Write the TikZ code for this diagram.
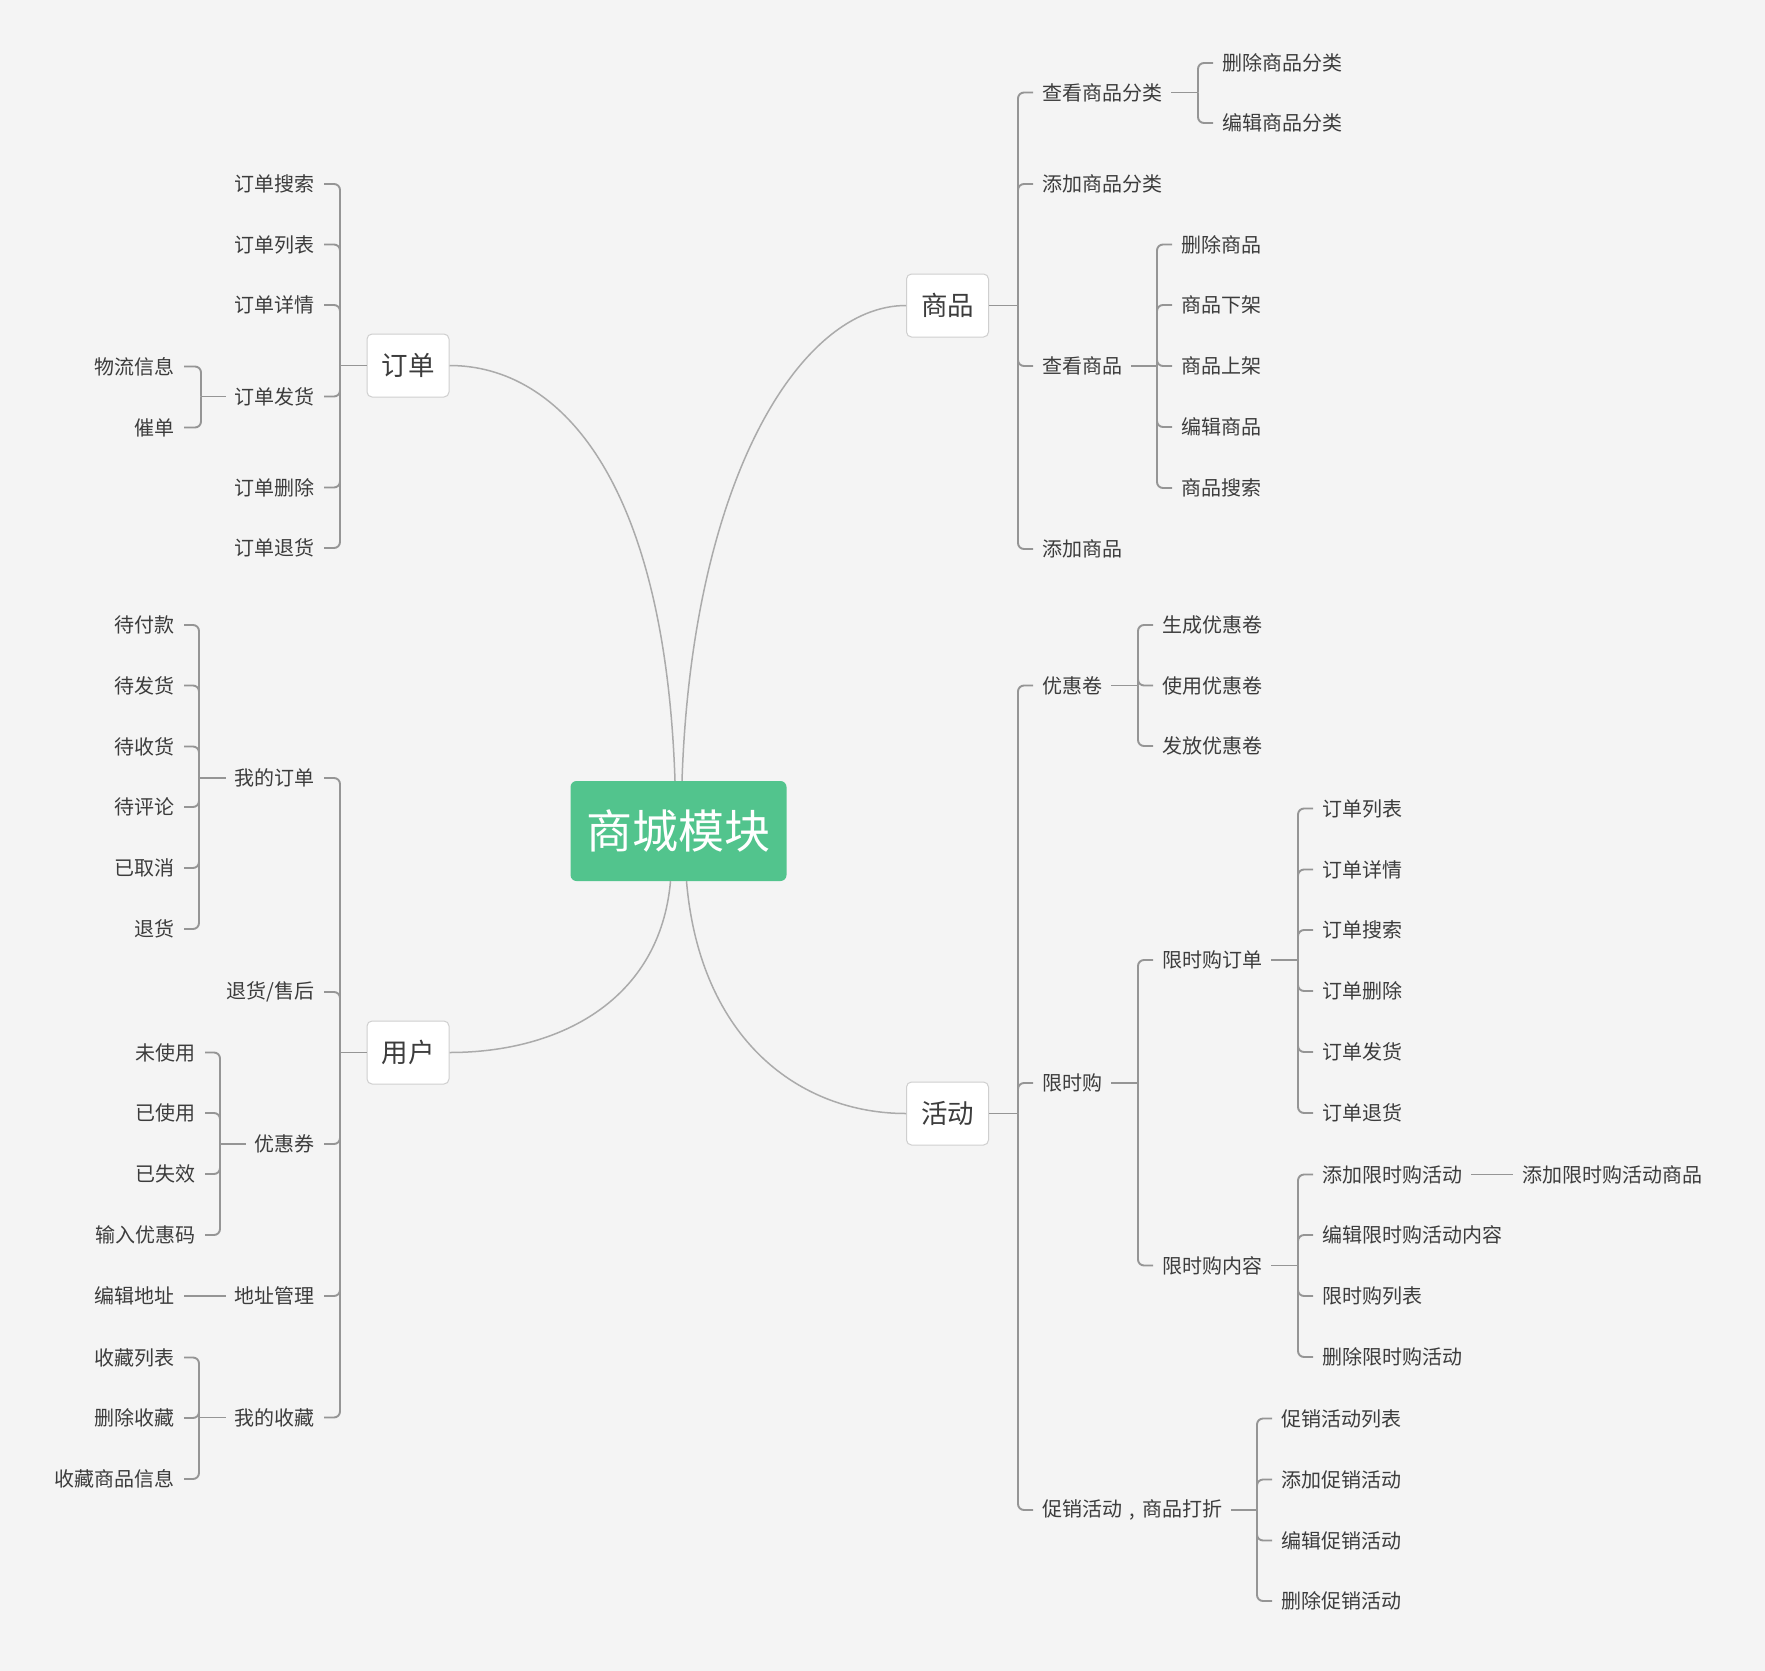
\documentclass[tikz,border=0pt]{standalone}
\usepackage{fontspec}
\setmainfont{Noto Sans CJK SC}
\definecolor{bgc}{HTML}{F4F4F4}
\definecolor{hubc}{HTML}{52C48D}
\definecolor{txt}{HTML}{3C3C3C}
\definecolor{brc}{HTML}{959595}
\definecolor{cvc}{HTML}{ABABAB}
\definecolor{boxl}{HTML}{CFCFCF}
\tikzset{
  leaf/.style={inner xsep=9pt, inner ysep=2pt, text=txt, font=\fontsize{20pt}{24pt}\selectfont},
  lf/.style={leaf, anchor=east},
  rt/.style={leaf, anchor=west},
  topic/.style={draw=boxl, line width=1pt, fill=white, rounded corners=5pt,
    minimum width=82pt, minimum height=63pt, inner sep=0pt, text=txt,
    font=\fontsize{26.5pt}{30pt}\selectfont},
  hubbox/.style={fill=hubc, rounded corners=6pt, minimum width=216pt, minimum height=100pt,
    inner sep=0pt, text=white, font=\fontsize{46pt}{50pt}\selectfont},
  br/.style={draw=brc, line width=1.9pt, rounded corners=6pt},
  cv/.style={draw=cvc, line width=1.5pt},
}
% centred comma occupying one full character cell
\newcommand\cjkcomma{\makebox[1em][c]{,}}
% branch helpers: #1 parent node, #2 spine coordinate, #3 child nodes
\newcommand\kidsL[3]{%
  \draw[br] (#1.west) -- (#2 |- #1.west);
  \foreach \c in {#3} {\draw[br] (#2 |- #1.west) |- (\c.east);}}
\newcommand\kidsR[3]{%
  \draw[br] (#1.east) -- (#2 |- #1.east);
  \foreach \c in {#3} {\draw[br] (#2 |- #1.east) |- (\c.west);}}
\begin{document}
\begin{tikzpicture}[x=1pt,y=-1pt]
\fill[bgc] (0,0) rectangle (1765,1671);
\useasboundingbox (0,0) rectangle (1765,1671);

% central topic and main topics
\node[hubbox] (hub) at (678.5,831) {商城模块};
\node[topic] (order) at (408,365.5) {订单};
\node[topic] (user) at (408,1052.5) {用户};
\node[topic] (goods) at (947.5,305.5) {商品};
\node[topic] (act) at (947.5,1113.5) {活动};

\draw[cv] ([xshift=-3.5pt]hub.north) .. controls (665,480) and (560,365.5) .. (order.east);
\draw[cv] ([xshift=3.5pt]hub.north) .. controls (692,480) and (800,305.5) .. (goods.west);
\draw[cv] ([xshift=-8pt]hub.south) .. controls (660,1000) and (560,1052.5) .. (user.east);
\draw[cv] ([xshift=8pt]hub.south) .. controls (700,1040) and (800,1113.5) .. (act.west);

% spine positions
\coordinate (sL1) at (340,0);
\coordinate (sL2a) at (201,0);
\coordinate (sL2b) at (199,0);
\coordinate (sL2c) at (220,0);
\coordinate (sR1) at (1018,0);
\coordinate (sRcat) at (1198,0);
\coordinate (sRgd) at (1157,0);
\coordinate (sRa) at (1138,0);
\coordinate (sRb) at (1298,0);
\coordinate (sRc) at (1257,0);

% ---- 订单 ----
\node[lf] (o1) at (324,184) {订单搜索};
\node[lf] (o2) at (324,244.5) {订单列表};
\node[lf] (o3) at (324,305) {订单详情};
\node[lf] (o4) at (324,396.5) {订单发货};
\node[lf] (o5) at (324,487.5) {订单删除};
\node[lf] (o6) at (324,548) {订单退货};
\node[lf] (o41) at (184,366.5) {物流信息};
\node[lf] (o42) at (184,427.5) {催单};
\kidsL{order}{sL1}{o1,o2,o3,o4,o5,o6}
\kidsL{o4}{sL2a}{o41,o42}

% ---- 用户 ----
\node[lf] (u1) at (324,778) {我的订单};
\node[lf] (u2) at (324,992) {退货/售后};
\node[lf] (u3) at (324,1144) {优惠券};
\node[lf] (u4) at (324,1296) {地址管理};
\node[lf] (u5) at (324,1417.5) {我的收藏};
\kidsL{user}{sL1}{u1,u2,u3,u4,u5}

\node[lf] (u11) at (184,625) {待付款};
\node[lf] (u12) at (184,685.5) {待发货};
\node[lf] (u13) at (184,746.5) {待收货};
\node[lf] (u14) at (184,807) {待评论};
\node[lf] (u15) at (184,868) {已取消};
\node[lf] (u16) at (184,929) {退货};
\kidsL{u1}{sL2b}{u11,u12,u13,u14,u15,u16}

\node[lf] (u31) at (205,1052.5) {未使用};
\node[lf] (u32) at (205,1113) {已使用};
\node[lf] (u33) at (205,1174) {已失效};
\node[lf] (u34) at (205,1235) {输入优惠码};
\kidsL{u3}{sL2c}{u31,u32,u33,u34}

\node[lf] (u41) at (184,1296) {编辑地址};
\draw[br] (u4.west) -- (u41.east);

\node[lf] (u51) at (184,1357.5) {收藏列表};
\node[lf] (u52) at (184,1418) {删除收藏};
\node[lf] (u53) at (184,1479) {收藏商品信息};
\kidsL{u5}{sL2b}{u51,u52,u53}

% ---- 商品 ----
\node[rt] (g1) at (1033,92.5) {查看商品分类};
\node[rt] (g2) at (1033,184) {添加商品分类};
\node[rt] (g3) at (1033,366) {查看商品};
\node[rt] (g4) at (1033,549) {添加商品};
\kidsR{goods}{sR1}{g1,g2,g3,g4}

\node[rt] (g11) at (1213,63) {删除商品分类};
\node[rt] (g12) at (1213,123) {编辑商品分类};
\kidsR{g1}{sRcat}{g11,g12}

\node[rt] (g31) at (1172,244.5) {删除商品};
\node[rt] (g32) at (1172,305) {商品下架};
\node[rt] (g33) at (1172,366) {商品上架};
\node[rt] (g34) at (1172,427) {编辑商品};
\node[rt] (g35) at (1172,488) {商品搜索};
\kidsR{g3}{sRgd}{g31,g32,g33,g34,g35}

% ---- 活动 ----
\node[rt] (a1) at (1033,685.5) {优惠卷};
\node[rt] (a2) at (1033,1083) {限时购};
\node[rt] (a3) at (1033,1510) {促销活动\cjkcomma 商品打折};
\kidsR{act}{sR1}{a1,a2,a3}

\node[rt] (a11) at (1153,625) {生成优惠卷};
\node[rt] (a12) at (1153,685.5) {使用优惠卷};
\node[rt] (a13) at (1153,746) {发放优惠卷};
\kidsR{a1}{sRa}{a11,a12,a13}

\node[rt] (a21) at (1153,960) {限时购订单};
\node[rt] (a22) at (1153,1265.5) {限时购内容};
\kidsR{a2}{sRa}{a21,a22}

\node[rt] (b1) at (1313,808.5) {订单列表};
\node[rt] (b2) at (1313,869.5) {订单详情};
\node[rt] (b3) at (1313,930) {订单搜索};
\node[rt] (b4) at (1313,991) {订单删除};
\node[rt] (b5) at (1313,1052) {订单发货};
\node[rt] (b6) at (1313,1113) {订单退货};
\kidsR{a21}{sRb}{b1,b2,b3,b4,b5,b6}

\node[rt] (c1) at (1313,1174.5) {添加限时购活动};
\node[rt] (c2) at (1313,1235) {编辑限时购活动内容};
\node[rt] (c3) at (1313,1296) {限时购列表};
\node[rt] (c4) at (1313,1357) {删除限时购活动};
\kidsR{a22}{sRb}{c1,c2,c3,c4}

\node[rt] (c11) at (1513,1174.5) {添加限时购活动商品};
\draw[br] (c1.east) -- (c11.west);

\node[rt] (d1) at (1272,1418.5) {促销活动列表};
\node[rt] (d2) at (1272,1479.5) {添加促销活动};
\node[rt] (d3) at (1272,1540.5) {编辑促销活动};
\node[rt] (d4) at (1272,1601) {删除促销活动};
\kidsR{a3}{sRc}{d1,d2,d3,d4}
\end{tikzpicture}
\end{document}
